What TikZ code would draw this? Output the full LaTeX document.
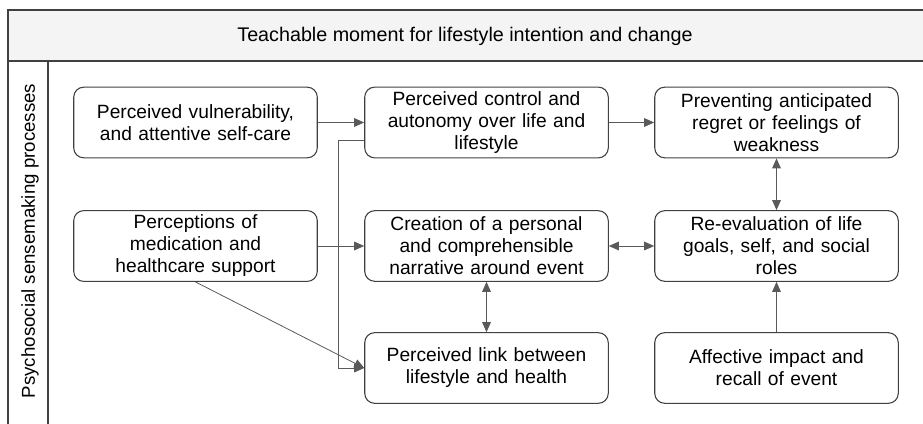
\documentclass[tikz,border=0pt]{standalone}
\usepackage{fontspec}
\setmainfont{Liberation Sans}
\usetikzlibrary{arrows.meta}

\definecolor{framegray}{HTML}{404040}
\definecolor{linkgray}{HTML}{5A5A5A}
\definecolor{bandgray}{HTML}{F4F4F4}

\begin{document}
\begin{tikzpicture}[x=0.75pt,y=-0.75pt,
	stagebox/.style={draw=framegray,line width=0.8pt,rounded corners=7.5pt,fill=white,
		minimum width=180pt,minimum height=53pt,text width=176pt,align=center,
		font=\fontsize{14.4pt}{16.5pt}\selectfont},
	link/.style={draw=linkgray,line width=0.6pt,-{Triangle[length=7.5pt,width=6.5pt]}},
	twoway/.style={draw=linkgray,line width=0.6pt,{Triangle[length=7.5pt,width=6.5pt]}-{Triangle[length=7.5pt,width=6.5pt]}}]
			\useasboundingbox (0,0) rectangle (923,424);
			
			% frame
			\draw[framegray,line width=0.9pt,fill=bandgray] (940,10) -- (8,10) -- (8,61) -- (940,61);
			\draw[framegray,line width=0.9pt] (8,61) -- (8,440);
			\draw[framegray,line width=0.9pt] (48,61) -- (48,440);
			\node[font=\fontsize{14.8pt}{17pt}\selectfont] (title) at (465,36) {Teachable moment for lifestyle intention and change};
			\node[font=\fontsize{14pt}{17pt}\selectfont,rotate=90] (side) at (30,241) {Psychosocial sensemaking processes};
			
			\node[stagebox] (vuln)   at (195.5,122.5) {Perceived vulnerability,\\ and attentive self-care};
			\node[stagebox] (ctrl)   at (486.5,122.5) {Perceived control and\\ autonomy over life and\\ lifestyle};
			\node[stagebox] (regret) at (776.5,122.5) {Preventing anticipated\\ regret or feelings of\\ weakness};
			\node[stagebox] (percep) at (195.5,246)   {Perceptions of\\ medication and\\ healthcare support};
			\node[stagebox] (narr)   at (486.5,246)   {Creation of a personal\\ and comprehensible\\ narrative around event};
			\node[stagebox] (reeval) at (776.5,246)   {Re-evaluation of life\\ goals, self, and social\\ roles};
			\node[stagebox] (lsh)    at (486.5,368)   {Perceived link between\\ lifestyle and health};
			\node[stagebox] (affect) at (776.5,368)   {Affective impact and\\ recall of event};
			
			\path (vuln) edge[link] (ctrl);
			\path (ctrl) edge[link] (regret);
			\path (percep) edge[link] (narr);
			\path (percep.south) edge[link] (lsh.west);
			\draw[link] ([yshift=-13.5pt]ctrl.west) -- ++(-26,0) |- (lsh.west);
			\path (narr) edge[twoway] (reeval);
			\path (narr) edge[twoway] (lsh);
			\path (regret) edge[twoway] (reeval);
			\path (affect) edge[link] (reeval);
			
		\end{tikzpicture}
\end{document}
